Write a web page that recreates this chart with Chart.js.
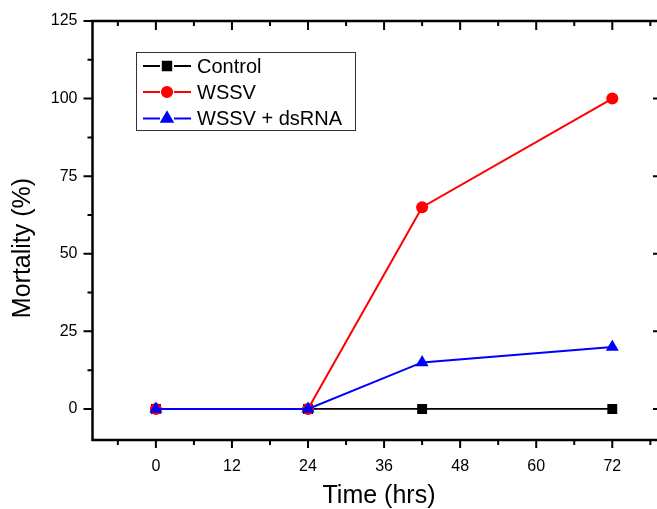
<!DOCTYPE html>
<html>
<head>
<meta charset="utf-8">
<script src="https://cdn.jsdelivr.net/npm/chart.js@4"></script>
<style>
html,body{margin:0;padding:0;background:#fff;overflow:hidden;}
canvas{display:block;}
</style>
</head>
<body>
<canvas id="c" width="672" height="509"></canvas>
<script>
const timeHrs = [0, 24, 42, 72];
const controlVals = [0, 0, 0, 0];
const wssvVals = [0, 0, 65, 100];
const dsrnaVals = [0, 0, 15, 20];
const xTicks = [0, 12, 24, 36, 48, 60, 72];
const xMinor = [-6, 6, 18, 30, 42, 54, 66, 78];
const yTicks = [0, 25, 50, 75, 100, 125];
const yMinor = [12.5, 37.5, 62.5, 87.5, 112.5];
const seriesNames = ['Control', 'WSSV', 'WSSV + dsRNA'];
const FONT = '"Liberation Sans", Arial, sans-serif';

function pts(vals){ return timeHrs.map((t,i)=>({x:t,y:vals[i]})); }

const framePlugin = {
  id:'frame',
  afterDraw(chart){
    const ctx = chart.ctx, a = chart.chartArea;
    const xs = chart.scales.x, ys = chart.scales.y;
    ctx.save();
    ctx.strokeStyle = '#000';
    ctx.lineWidth = 2.5;
    ctx.strokeRect(a.left, a.top, a.right - a.left, a.bottom - a.top);
    ctx.lineWidth = 2;
    ctx.beginPath();
    xTicks.forEach(v=>{ const p = xs.getPixelForValue(v);
      ctx.moveTo(p, a.bottom); ctx.lineTo(p, a.bottom + 8);
      ctx.moveTo(p, a.top); ctx.lineTo(p, a.top + 9); });
    xMinor.forEach(v=>{ const p = xs.getPixelForValue(v);
      ctx.moveTo(p, a.bottom); ctx.lineTo(p, a.bottom + 5);
      ctx.moveTo(p, a.top); ctx.lineTo(p, a.top + 5); });
    yTicks.forEach(v=>{ const p = ys.getPixelForValue(v);
      ctx.moveTo(a.left, p); ctx.lineTo(a.left - 9, p);
      ctx.moveTo(a.right, p); ctx.lineTo(a.right - 10, p); });
    yMinor.forEach(v=>{ const p = ys.getPixelForValue(v);
      ctx.moveTo(a.left, p); ctx.lineTo(a.left - 5, p);
      ctx.moveTo(a.right, p); ctx.lineTo(a.right - 6, p); });
    ctx.stroke();

    // axis titles
    ctx.fillStyle = '#000';
    ctx.font = '25px ' + FONT;
    ctx.textAlign = 'center';
    ctx.textBaseline = 'alphabetic';
    ctx.fillText('Time (hrs)', 379, 503);
    ctx.save();
    ctx.translate(30, 248);
    ctx.rotate(-Math.PI/2);
    ctx.font = '25px ' + FONT;
    ctx.fillText('Mortality (%)', 0, 0);
    ctx.restore();

    // legend
    ctx.lineWidth = 1;
    ctx.strokeStyle = '#333';
    ctx.fillStyle = '#fff';
    ctx.fillRect(136, 52, 219, 78);
    ctx.strokeRect(136.5, 52.5, 219, 78);
    const rows = [66, 92, 118.5];
    chart.data.datasets.forEach((ds, i)=>{
      const y = rows[i];
      ctx.strokeStyle = ds.borderColor;
      ctx.lineWidth = 2;
      ctx.beginPath();
      ctx.moveTo(143, y); ctx.lineTo(160, y);
      ctx.moveTo(174, y); ctx.lineTo(191, y);
      ctx.stroke();
      Chart.helpers.drawPoint(ctx, {pointStyle: ds.pointStyle, radius: ds.pointRadius * 0.85, rotation: 0, borderWidth: 1}, 167, y);
      ctx.fillStyle = ds.borderColor;
      ctx.fill();
      ctx.fillStyle = '#000';
      ctx.font = '20px ' + FONT;
      ctx.textAlign = 'left';
      ctx.textBaseline = 'middle';
      ctx.fillText(seriesNames[i], 197, y + 1);
    });
    ctx.restore();
  }
};

new Chart(document.getElementById('c'), {
  type: 'line',
  data: {
    datasets: [
      {label: seriesNames[0], data: pts(controlVals), borderColor: '#000000', backgroundColor: '#000000',
       pointStyle: 'rect', pointRadius: 7, borderWidth: 1.8, pointBorderWidth: 0, order: 3},
      {label: seriesNames[1], data: pts(wssvVals), borderColor: '#FF0000', backgroundColor: '#FF0000',
       pointStyle: 'circle', pointRadius: 6, borderWidth: 2, pointBorderWidth: 0, order: 2},
      {label: seriesNames[2], data: pts(dsrnaVals), borderColor: '#0000FF', backgroundColor: '#0000FF',
       pointStyle: 'triangle', pointRadius: 7.5, borderWidth: 2, pointBorderWidth: 0, order: 1}
    ]
  },
  options: {
    responsive: false,
    animation: false,
    events: [],
    layout: {padding: {left: 0, top: 21, right: 9, bottom: 0}},
    plugins: {legend: {display: false}, tooltip: {enabled: false}},
    elements: {line: {tension: 0}},
    scales: {
      x: {
        type: 'linear', min: -10, max: 80,
        afterBuildTicks: s => { s.ticks = xTicks.map(v => ({value: v})); },
        afterFit: s => { s.height = 69; },
        grid: {display: false}, border: {display: false},
        ticks: {autoSkip: false, maxRotation: 0, padding: 9, color: '#000', font: {family: FONT, size: 16}}
      },
      y: {
        type: 'linear', min: -10, max: 125,
        afterBuildTicks: s => { s.ticks = yTicks.map(v => ({value: v})); },
        afterFit: s => { s.width = 92.5; },
        grid: {display: false}, border: {display: false},
        ticks: {autoSkip: false, padding: 7, color: '#000', font: {family: FONT, size: 16}}
      }
    }
  },
  plugins: [framePlugin]
});
</script>
</body>
</html>
